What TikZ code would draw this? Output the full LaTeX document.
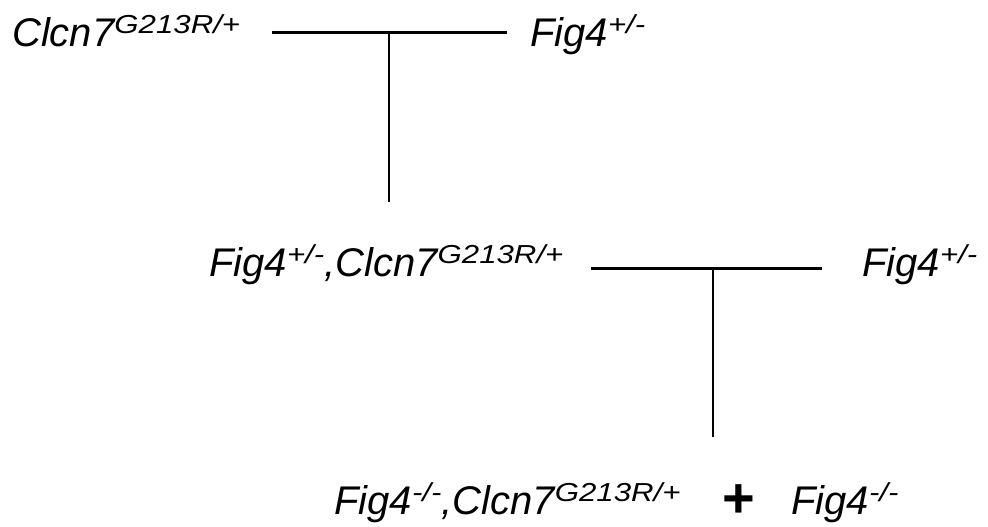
\documentclass[tikz,border=0pt]{standalone}
\usepackage{graphicx}
\usepackage{fontspec}
\setmainfont{Liberation Sans}
\usetikzlibrary{positioning}
\newcommand{\gsup}[1]{\raisebox{13pt}{\scalebox{1.2}[1]{\fontsize{26}{26}\selectfont #1}}}

\begin{document}
\begin{tikzpicture}[x=1pt, y=-1pt, gene/.style={font=\fontsize{40}{44}\selectfont\itshape, inner sep=0pt, anchor=base west}, bar/.style={line width=3pt}, stem/.style={line width=2.4pt}]
        \useasboundingbox (0,0) rectangle (988,527);
        % parents
        \node[gene] (p1) at (12,47)   {Clcn7\gsup{G213R/+}};
        \node[gene] (p2) at (530,47)  {Fig4\gsup{+/-}};
        % F1 and backcross
        \node[gene] (f1) at (209,276) {Fig4\gsup{+/-},Clcn7\gsup{G213R/+}};
        \node[gene] (p3) at (862,276) {Fig4\gsup{+/-}};
        % offspring
        \node[gene] (o1) at (334,514) {Fig4\gsup{-/-},Clcn7\gsup{G213R/+}};
        \node[font=\fontsize{56}{60}\selectfont\bfseries, inner sep=0pt, anchor=base] (plus) at (739,517) {+};
        \node[gene] (o2) at (791,514) {Fig4\gsup{-/-}};

        \coordinate (a1) at (272,33);
        \coordinate (b1) at (507,33);
        \coordinate (m1) at (389,33);
        \coordinate (d1) at (389,202);
        \coordinate (a2) at (591,268);
        \coordinate (b2) at (822,268);
        \coordinate (m2) at (713,268);
        \coordinate (d2) at (713,437);

        \draw[bar]  (a1) -- (b1);
        \draw[stem] (m1) -- (d1);
        \draw[bar]  (a2) -- (b2);
        \draw[stem] (m2) -- (d2);
\end{tikzpicture}
\end{document}
